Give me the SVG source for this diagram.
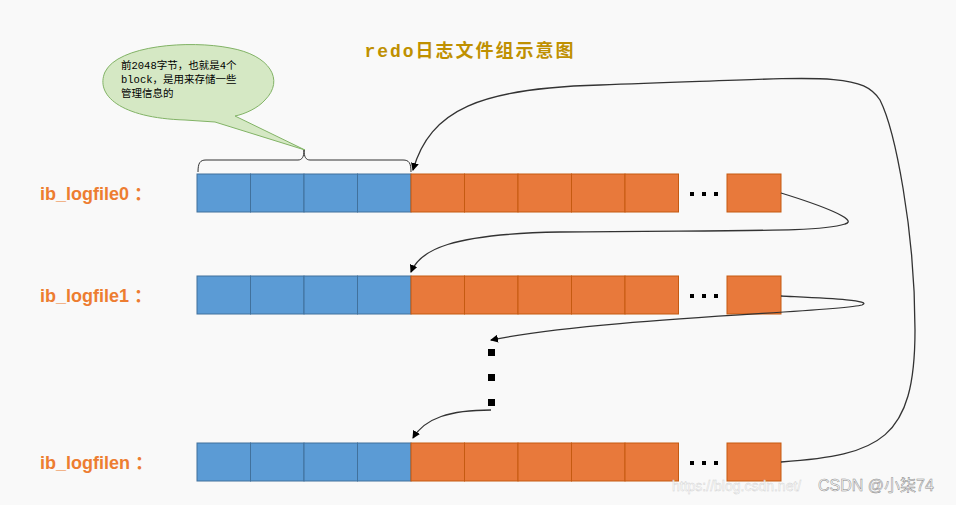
<svg xmlns="http://www.w3.org/2000/svg" width="956" height="505" viewBox="0 0 956 505">
<defs>
<style>
.b{fill:#5b9bd5;stroke:#41719c;stroke-width:1}
.o{fill:#e8793b;stroke:#c55a11;stroke-width:1}
.lbl{font-family:"Liberation Sans","Noto Sans CJK SC",sans-serif;font-weight:bold;font-size:18px;fill:#ed7d31}
.c{fill:none;stroke:#333;stroke-width:1.3}
.dot{fill:#000}
</style>
<marker id="ah" markerWidth="8" markerHeight="8" refX="7" refY="4" orient="auto" markerUnits="userSpaceOnUse"><path d="M0,0 L8,4 L0,8 z" fill="#000"/></marker>
</defs>
<rect width="956" height="505" fill="#f9f9f9"/>
<text x="470" y="57" text-anchor="middle" font-family="'Liberation Mono','Noto Sans CJK SC',monospace" font-weight="bold" font-size="18" letter-spacing="2" fill="#bf9000">redo日志文件组示意图</text>
<g id="callout">
<path d="M185,120 C120,118 95,95 105,72 C118,45 190,40 230,48 C270,55 285,80 265,100 C258,108 245,114 235,116 L305,150 L215,122 Z" fill="#d5e8c4" stroke="#82b366" stroke-width="1"/>
<text font-family="'Liberation Mono','Noto Sans CJK SC',monospace" font-size="10.5" fill="#000"><tspan x="121" y="69">前2048字节，也就是4个</tspan><tspan x="121" y="83">block，是用来存储一些</tspan><tspan x="121" y="97">管理信息的</tspan></text>
<path d="M198,172 C198,163 200,160 206,160 L298,160 C302,160 304,157 304,150 C304,157 306,160 310,160 L403,160 C409,160 411,163 411,172" fill="none" stroke="#333" stroke-width="1"/>
</g>
<g id="row0">
<text class="lbl" x="40" y="200">ib_logfile0 ：</text>
<rect class="b" x="197" y="174" width="53.5" height="38"/><rect class="b" x="250.5" y="174" width="53.5" height="38"/><rect class="b" x="304" y="174" width="53.5" height="38"/><rect class="b" x="357.5" y="174" width="53.5" height="38"/>
<rect class="o" x="411" y="174" width="53.5" height="38"/><rect class="o" x="464.5" y="174" width="53.5" height="38"/><rect class="o" x="518" y="174" width="53.5" height="38"/><rect class="o" x="571.5" y="174" width="53.5" height="38"/><rect class="o" x="625" y="174" width="53.5" height="38"/>
<rect class="dot" x="690" y="192" width="4" height="4"/><rect class="dot" x="702" y="192" width="4" height="4"/><rect class="dot" x="714" y="192" width="4" height="4"/>
<rect class="o" x="727" y="174" width="54" height="38"/>
</g>
<g id="row1">
<text class="lbl" x="40" y="302">ib_logfile1 ：</text>
<rect class="b" x="197" y="276" width="53.5" height="38"/><rect class="b" x="250.5" y="276" width="53.5" height="38"/><rect class="b" x="304" y="276" width="53.5" height="38"/><rect class="b" x="357.5" y="276" width="53.5" height="38"/>
<rect class="o" x="411" y="276" width="53.5" height="38"/><rect class="o" x="464.5" y="276" width="53.5" height="38"/><rect class="o" x="518" y="276" width="53.5" height="38"/><rect class="o" x="571.5" y="276" width="53.5" height="38"/><rect class="o" x="625" y="276" width="53.5" height="38"/>
<rect class="dot" x="690" y="294" width="4" height="4"/><rect class="dot" x="702" y="294" width="4" height="4"/><rect class="dot" x="714" y="294" width="4" height="4"/>
<rect class="o" x="727" y="276" width="54" height="38"/>
</g>
<g id="rown">
<text class="lbl" x="40" y="469">ib_logfilen ：</text>
<rect class="b" x="197" y="443" width="53.5" height="38"/><rect class="b" x="250.5" y="443" width="53.5" height="38"/><rect class="b" x="304" y="443" width="53.5" height="38"/><rect class="b" x="357.5" y="443" width="53.5" height="38"/>
<rect class="o" x="411" y="443" width="53.5" height="38"/><rect class="o" x="464.5" y="443" width="53.5" height="38"/><rect class="o" x="518" y="443" width="53.5" height="38"/><rect class="o" x="571.5" y="443" width="53.5" height="38"/><rect class="o" x="625" y="443" width="53.5" height="38"/>
<rect class="dot" x="690" y="461" width="4" height="4"/><rect class="dot" x="702" y="461" width="4" height="4"/><rect class="dot" x="714" y="461" width="4" height="4"/>
<rect class="o" x="727" y="443" width="54" height="38"/>
</g>
<g id="vdots">
<rect class="dot" x="488" y="349" width="7" height="7"/><rect class="dot" x="488" y="374" width="7" height="7"/><rect class="dot" x="488" y="399" width="7" height="7"/>
</g>
<g id="connectors">
<path class="c" d="M781,193 C820,205 860,220 845,224 C820,232 760,230 560,232 C450,234 420,250 411,272" marker-end="url(#ah)"/>
<path class="c" d="M781,296 C820,298 875,300 862,305 C840,312 600,318 491,340" marker-end="url(#ah)"/>
<path class="c" d="M491,410 C450,410 425,418 413,438" marker-end="url(#ah)"/>
<path class="c" d="M781,462 C880,455 915,440 915,330 C915,230 895,130 880,100 C860,70 820,78 600,85 C480,88 430,110 413,170" marker-end="url(#ah)"/>
</g>
<text x="672" y="491" font-family="'Liberation Sans',sans-serif" font-size="14" fill="#fff" stroke="#ccc" stroke-width="0.4" opacity="0.9">https://blog.csdn.net/</text>
<text x="818" y="491" font-family="'Liberation Sans','Noto Sans CJK SC',sans-serif" font-size="16" fill="#fff" stroke="#888" stroke-width="0.5">CSDN @小柒74</text>
</svg>
